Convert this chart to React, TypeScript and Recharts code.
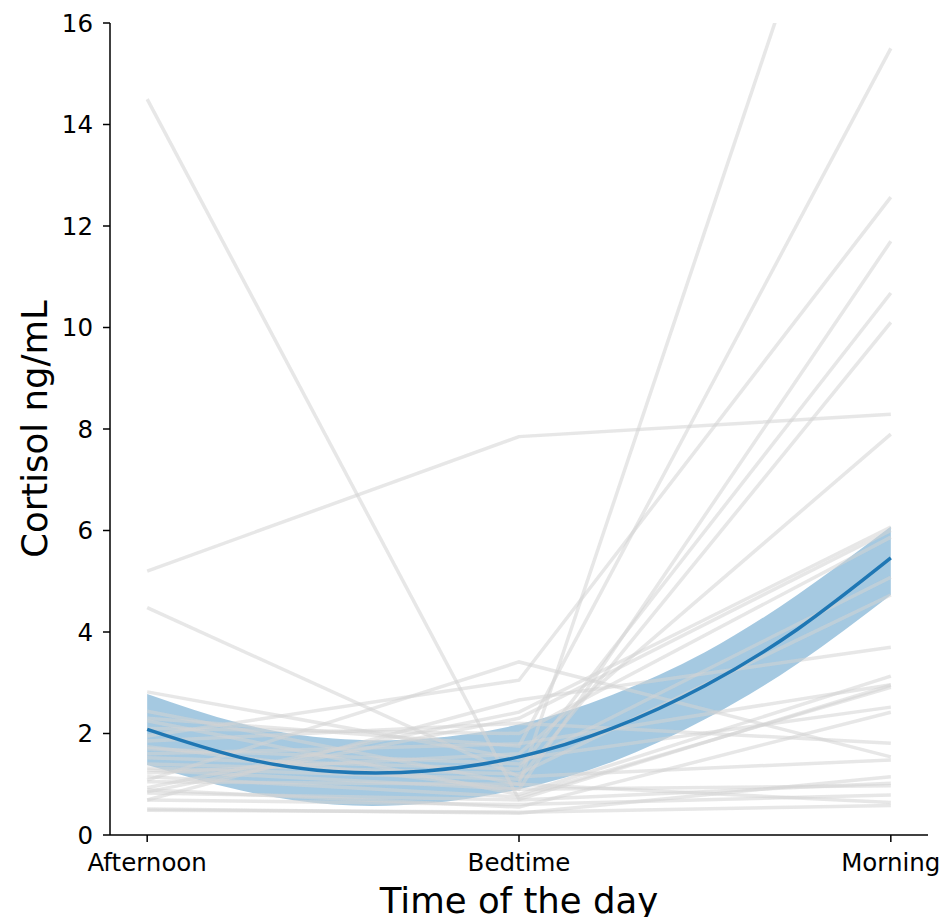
import { ComposedChart, Line, Area, XAxis, YAxis } from 'recharts';

// Tageszeitpunkte (x-Achse: 0, 1, 2)
const timePoints = ['Afternoon', 'Bedtime', 'Morning'];
const timeTicks = [0, 1, 2];
const yTicks = [0, 2, 4, 6, 8, 10, 12, 14, 16];

// Einzelverläufe pro Proband (ng/mL)
const afternoonValues = [14.5, 5.2, 4.48, 2.82, 2.44, 2.3, 1.95, 1.74, 1.52, 1.32, 1.22, 1.08, 0.93, 0.85, 2.1, 1.7, 1.4, 0.69, 2.25, 1.15, 0.89, 1.85, 0.51, 0.83, 1.28, 0.69, 1.05, 0.49, 1.6];
const bedtimeValues = [0.7, 7.85, 1.15, 1.5, 1.0, 1.75, 3.05, 0.9, 1.3, 1.1, 1.6, 3.41, 2.42, 2.3, 2.0, 1.4, 1.2, 2.66, 0.8, 0.75, 0.55, 2.2, 0.43, 0.69, 0.9, 0.6, 1.0, 0.45, 1.8];
const morningValues = [2.95, 8.29, 1.48, 2.52, 22.8, 15.5, 12.57, 11.7, 10.68, 10.1, 7.9, 1.54, 6.07, 6.0, 5.87, 5.08, 4.73, 3.7, 3.13, 2.91, 2.42, 1.81, 1.15, 1.02, 0.97, 0.79, 0.64, 0.58, 2.96];

// Quadratischer Fit + Konfidenzband
const fitX = [0, 0.25, 0.5, 0.75, 1, 1.25, 1.5, 1.75, 2];
const fitMean = [2.08, 1.53, 1.25, 1.26, 1.54, 2.1, 2.94, 4.06, 5.46];
const fitLower = [1.38, 0.88, 0.6, 0.62, 0.9, 1.44, 2.28, 3.38, 4.73];
const fitUpper = [2.78, 2.2, 1.9, 1.9, 2.18, 2.76, 3.6, 4.74, 6.08];

const subjects = afternoonValues.map((a, i) => [
  { x: 0, y: a },
  { x: 1, y: bedtimeValues[i] },
  { x: 2, y: morningValues[i] },
]);

const fitData = fitX.map((x, i) => ({
  x,
  mean: fitMean[i],
  band: [fitLower[i], fitUpper[i]],
}));

const FONT = '"DejaVu Sans", sans-serif';

export default function App() {
  return (
    <div style={{ position: 'absolute', left: 0, top: 0, background: '#fff' }}>
      <ComposedChart
        width={947}
        height={917}
        data={fitData}
        margin={{ top: 23, right: 19, bottom: 32, left: 50 }}
      >
        <XAxis
          type="number"
          dataKey="x"
          domain={[-0.1, 2.1]}
          allowDataOverflow
          ticks={timeTicks}
          tickFormatter={(v: number) => timePoints[v] ?? ''}
          height={50}
          tickSize={7}
          tickMargin={12}
          stroke="#000"
          strokeWidth={1.5}
          tick={{ fill: '#000', fontSize: 24.5, fontFamily: FONT }}
          tickLine={{ stroke: '#000', strokeWidth: 1.5 }}
          label={{ value: 'Time of the day', position: 'bottom', offset: 3, style: { fill: '#000', fontSize: 35.5, fontFamily: FONT } }}
        />
        <YAxis
          type="number"
          domain={[0, 16]}
          allowDataOverflow
          ticks={yTicks}
          width={60}
          tickSize={7}
          tickMargin={10}
          stroke="#000"
          strokeWidth={1.5}
          tick={{ fill: '#000', fontSize: 24.5, fontFamily: FONT }}
          tickLine={{ stroke: '#000', strokeWidth: 1.5 }}
          label={{ value: 'Cortisol ng/mL', angle: -90, position: 'left', offset: 16, style: { fill: '#000', fontSize: 35.5, fontFamily: FONT, textAnchor: 'middle' } }}
        />
        <Area
          type="natural"
          dataKey="band"
          stroke="none"
          fill="#1f77b4"
          fillOpacity={0.4}
          isAnimationActive={false}
          activeDot={false}
        />
        {subjects.map((s, i) => (
          <Line
            key={i}
            data={s}
            dataKey="y"
            type="linear"
            stroke="#d3d3d3"
            strokeOpacity={0.55}
            strokeWidth={3.5}
            dot={false}
            activeDot={false}
            isAnimationActive={false}
          />
        ))}
        <Line
          dataKey="mean"
          type="natural"
          stroke="#1f77b4"
          strokeWidth={3.5}
          dot={false}
          activeDot={false}
          isAnimationActive={false}
        />
      </ComposedChart>
    </div>
  );
}
